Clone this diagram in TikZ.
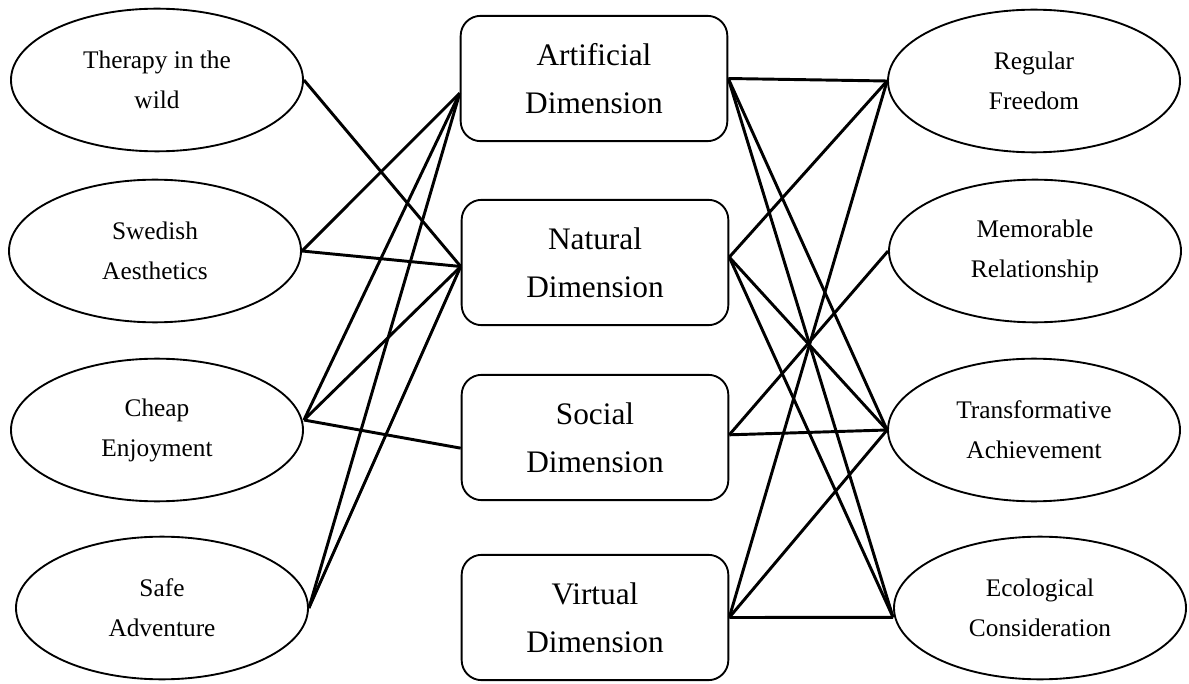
\documentclass[tikz,border=0pt]{standalone}
\usepackage{fontspec}
\setmainfont{Liberation Serif}
\usetikzlibrary{shapes.geometric}

\tikzset{
  dimbox/.style={draw, rounded corners=15pt, line width=1.4pt, align=center, minimum width=200pt, minimum height=94pt, inner sep=0pt, font=\fontsize{23.5}{36}\selectfont},
  valell/.style={draw, ellipse, line width=1.4pt, align=center, minimum width=219pt, minimum height=107pt, inner sep=0pt, font=\fontsize{19}{30}\selectfont},
  linkln/.style={line width=2.2pt}
}

\begin{document}
\begin{tikzpicture}[x=0.75pt,y=-0.75pt]
        \useasboundingbox (0,0) rectangle (1189,684);

        % left: values
        \node[valell] (therapy) at (157,80) {Therapy in the\\wild};
        \node[valell] (swedish) at (155,251) {Swedish\\Aesthetics};
        \node[valell] (cheap) at (157,430) {Cheap\\Enjoyment};
        \node[valell] (safe) at (162,608) {Safe\\Adventure};

        % middle: dimensions
        \node[dimbox] (artif) at (594,78.5) {Artificial\\Dimension};
        \node[dimbox] (natur) at (595,262.5) {Natural\\Dimension};
        \node[dimbox] (socia) at (595,437.5) {Social\\Dimension};
        \node[dimbox] (virtu) at (595,617.5) {Virtual\\Dimension};

        % right: outcomes
        \node[valell] (freedom) at (1034,81) {Regular\\Freedom};
        \node[valell] (memor) at (1035,251) {Memorable\\Relationship};
        \node[valell] (transf) at (1034,430) {Transformative\\Achievement};
        \node[valell] (ecolo) at (1040,608) {Ecological\\Consideration};

        % left links
        \draw[linkln] (therapy.east) -- ([yshift=-3pt]natur.west);
        \draw[linkln] (swedish.east) -- ([yshift=-11pt]artif.west);
        \draw[linkln] (swedish.east) -- ([yshift=-3pt]natur.west);
        \draw[linkln] ([yshift=7.5pt]cheap.east) -- ([yshift=-11pt]artif.west);
        \draw[linkln] ([yshift=7.5pt]cheap.east) -- ([yshift=-3pt]natur.west);
        \draw[linkln] ([yshift=7.5pt]cheap.east) -- ([yshift=-8pt]socia.west);
        \draw[linkln] (safe.east) -- ([yshift=-11pt]artif.west);
        \draw[linkln] (safe.east) -- ([yshift=-3pt]natur.west);

        % right links
        \draw[linkln] (artif.east) -- (freedom.west);
        \draw[linkln] (artif.east) -- (transf.west);
        \draw[linkln] (artif.east) -- ([yshift=-7pt]ecolo.west);
        \draw[linkln] ([yshift=4pt]natur.east) -- (freedom.west);
        \draw[linkln] ([yshift=4pt]natur.east) -- (transf.west);
        \draw[linkln] ([yshift=4pt]natur.east) -- ([yshift=-7pt]ecolo.west);
        \draw[linkln] ([yshift=2pt]socia.east) -- (memor.west);
        \draw[linkln] ([yshift=2pt]socia.east) -- (transf.west);
        \draw[linkln] (virtu.east) -- (freedom.west);
        \draw[linkln] (virtu.east) -- (transf.west);
        \draw[linkln] (virtu.east) -- ([yshift=-7pt]ecolo.west);
\end{tikzpicture}
\end{document}
